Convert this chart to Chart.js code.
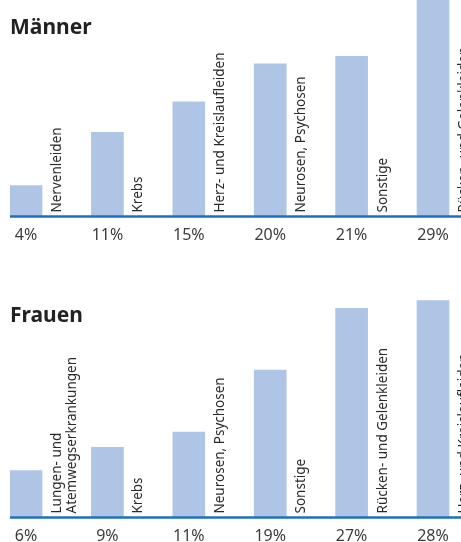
<!DOCTYPE html>
<html>
<head>
<meta charset="utf-8">
<script src="https://cdn.jsdelivr.net/npm/chart.js@4"></script>
<style>
  body { margin: 0; background: #fff; width: 461px; height: 542px; overflow: hidden; font-family: 'Noto Sans', sans-serif; }
  .panel { position: absolute; left: 0; width: 461px; }
  .panel h2 { position: absolute; left: 10px; margin: 0; font-size: 21px; line-height: 21px; font-weight: bold; color: #222; z-index: 2; }
  .panel canvas { position: absolute; left: 0; top: 0; }
</style>
</head>
<body>
<div class="panel" id="p-m" style="top:0;height:250px">
  <h2 style="top:16px">Männer</h2>
  <canvas id="chart-m" width="461" height="250"></canvas>
</div>
<div class="panel" id="p-f" style="top:280px;height:262px">
  <h2 style="top:24px">Frauen</h2>
  <canvas id="chart-f" width="461" height="262"></canvas>
</div>
<script>
/* ── Data ── */
const MEN_NAMES   = ['Nervenleiden', 'Krebs', 'Herz- und Kreislaufleiden', 'Neurosen, Psychosen', 'Sonstige', 'Rücken- und Gelenkleiden'];
const MEN_VALUES  = [4, 11, 15, 20, 21, 29];
const WOMEN_NAMES  = ['Lungen- und\nAtemwegserkrankungen', 'Krebs', 'Neurosen, Psychosen', 'Sonstige', 'Rücken- und Gelenkleiden', 'Herz- und Kreislaufleiden'];
const WOMEN_VALUES = [6, 9, 11, 19, 27, 28];

const BAR_COLOR  = '#aec5e6';
const LINE_COLOR = '#1e70be';

/* ── Labels, percents and baseline ── */
const labelPlugin = {
  id: 'barLabels',
  afterDatasetsDraw(chart) {
    const ctx = chart.ctx;
    const area = chart.chartArea;
    const y0 = chart.scales.y.getPixelForValue(0);
    const names = chart.config.options.names;
    const values = chart.data.datasets[0].data;

    ctx.save();
    ctx.strokeStyle = LINE_COLOR;
    ctx.lineWidth = 2.5;
    ctx.beginPath();
    ctx.moveTo(area.left, y0 + 0.5);
    ctx.lineTo(chart.width, y0 + 0.5);
    ctx.stroke();

    chart.getDatasetMeta(0).data.forEach((bar, i) => {
      ctx.fillStyle = '#3c3c3c';
      ctx.font = '16px "Noto Sans"';
      ctx.textAlign = 'center';
      ctx.textBaseline = 'alphabetic';
      ctx.fillText(values[i].y + '%', bar.x, y0 + 24);

      ctx.save();
      ctx.translate(bar.x + bar.width / 2 + 19, y0 - 3.5);
      ctx.rotate(-Math.PI / 2);
      ctx.textAlign = 'left';
      ctx.fillStyle = '#2a2a2a';
      ctx.font = '13.5px "Noto Sans"';
      names[i].split('\n').forEach((ln, j) => ctx.fillText(ln, 0, j * 14.5));
      ctx.restore();
    });
    ctx.restore();
  }
};

/* ── Chart helper ── */
function mkChart(id, names, values, yMax, padBottom) {
  return new Chart(document.getElementById(id), {
    type: 'bar',
    data: {
      datasets: [{
        data: values.map((v, i) => ({ x: i, y: v })),
        backgroundColor: BAR_COLOR,
        barThickness: 32,
        borderWidth: 0
      }]
    },
    options: {
      names,
      responsive: false,
      animation: false,
      layout: { padding: { left: 10, right: 0, top: 0, bottom: padBottom } },
      scales: {
        x: { type: 'linear', display: false, offset: false, min: -0.197, max: 5.344 },
        y: { display: false, min: 0, max: yMax }
      },
      plugins: { legend: { display: false }, tooltip: { enabled: false } }
    },
    plugins: [labelPlugin]
  });
}

mkChart('chart-m', MEN_NAMES, MEN_VALUES, 28.4, 34);
mkChart('chart-f', WOMEN_NAMES, WOMEN_VALUES, 30.66, 25);
</script>
</body>
</html>
